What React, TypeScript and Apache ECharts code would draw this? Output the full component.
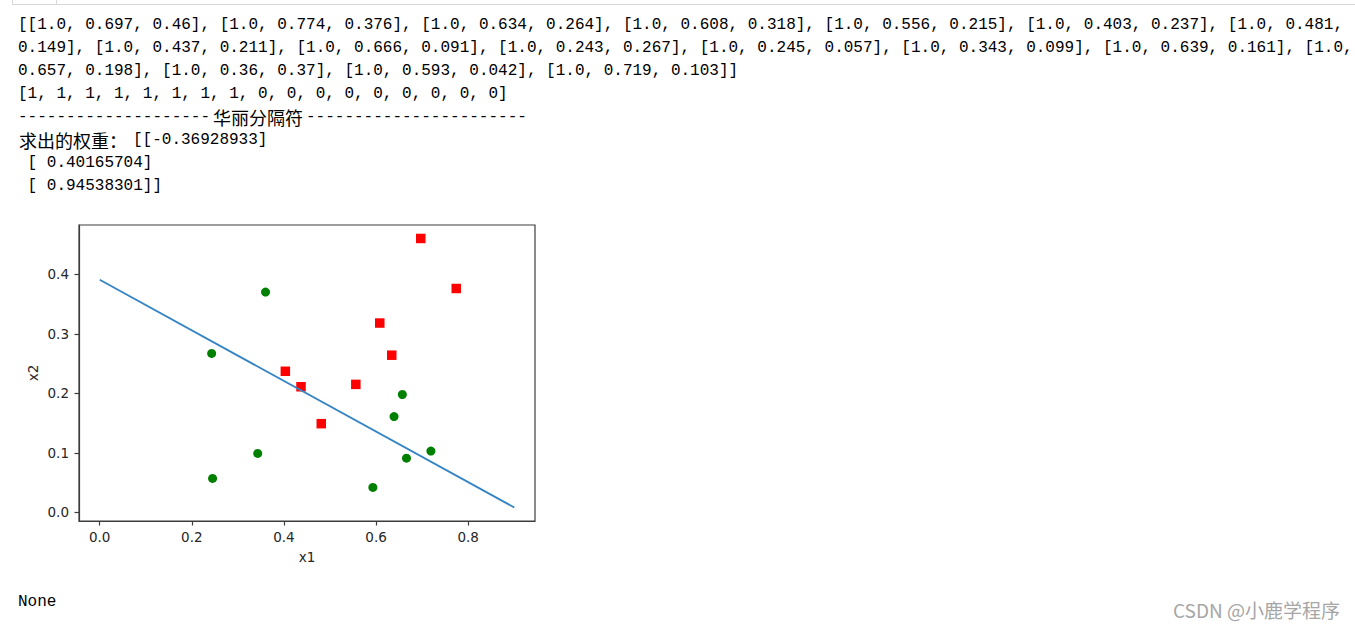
import React, { useEffect, useRef } from "react";
import * as echarts from "echarts";

// Data read from the printed matrix: positive (label 1) and negative (label 0) samples
const x1Pos = [0.697, 0.774, 0.634, 0.608, 0.556, 0.403, 0.481, 0.437];
const x2Pos = [0.46, 0.376, 0.264, 0.318, 0.215, 0.237, 0.149, 0.211];
const x1Neg = [0.666, 0.243, 0.245, 0.343, 0.639, 0.657, 0.36, 0.593, 0.719];
const x2Neg = [0.091, 0.267, 0.057, 0.099, 0.161, 0.198, 0.37, 0.042, 0.103];
// Decision boundary end points
const lineX = [0, 0.9];
const lineY = [0.3906, 0.0083];
// Tick labels
const xTicks = [0, 0.2, 0.4, 0.6, 0.8];
const yTicks = [0, 0.1, 0.2, 0.3, 0.4];

// Printed notebook output
const outLines = [
  "[[1.0, 0.697, 0.46], [1.0, 0.774, 0.376], [1.0, 0.634, 0.264], [1.0, 0.608, 0.318], [1.0, 0.556, 0.215], [1.0, 0.403, 0.237], [1.0, 0.481,",
  "0.149], [1.0, 0.437, 0.211], [1.0, 0.666, 0.091], [1.0, 0.243, 0.267], [1.0, 0.245, 0.057], [1.0, 0.343, 0.099], [1.0, 0.639, 0.161], [1.0,",
  "0.657, 0.198], [1.0, 0.36, 0.37], [1.0, 0.593, 0.042], [1.0, 0.719, 0.103]]",
  "[1, 1, 1, 1, 1, 1, 1, 1, 0, 0, 0, 0, 0, 0, 0, 0, 0]",
];
const sepLeft = "--------------------";
const sepTitle = "华丽分隔符";
const sepRight = "-----------------------";
const weightTitle = "求出的权重：";
const weightLines = ["[[-0.36928933]", " [ 0.40165704]", " [ 0.94538301]]"];
const noneText = "None";
const watermark = "CSDN @小鹿学程序";

const MONO = "'Liberation Mono', 'DejaVu Sans Mono', monospace";
const CJK = "'Noto Sans CJK SC', sans-serif";
const AXC = "#3c3c3c";
const TXT = "#262626";

export default function App() {
  const ref = useRef<HTMLDivElement>(null);
  useEffect(() => {
    if (!ref.current) return;
    const chart = echarts.init(ref.current, null, { renderer: "svg" });
    const rowY = (i: number) => 25 + 23 * i;
    const textEl = (text: string, x: number, y: number, family: string, size: number, fill = "#000", align = "left") => ({
      type: "text",
      x,
      y,
      style: { text, fill, fontFamily: family, fontSize: size, align, verticalAlign: "middle" },
    });
    const graphics: any[] = [
      { type: "line", shape: { x1: 12, y1: 4.5, x2: 1355, y2: 4.5 }, style: { stroke: "#d9d9d9", lineWidth: 1 } },
      { type: "line", shape: { x1: 12.5, y1: 0, x2: 12.5, y2: 4.5 }, style: { stroke: "#d9d9d9", lineWidth: 1 } },
      { type: "line", shape: { x1: 56.5, y1: 0, x2: 56.5, y2: 4.5 }, style: { stroke: "#d9d9d9", lineWidth: 1 } },
    ];
    outLines.forEach((l, i) => graphics.push(textEl(l, 18, rowY(i), MONO, 16)));
    graphics.push(textEl(sepLeft, 18, rowY(4), MONO, 16));
    graphics.push(textEl(sepTitle, 258, rowY(4), CJK, 18, "#000", "center"));
    graphics.push(textEl(sepRight, 306, rowY(4), MONO, 16));
    graphics.push(textEl(weightTitle, 19, rowY(5), CJK, 18));
    weightLines.forEach((l, i) => graphics.push(textEl(l, i === 0 ? 133 : 18, rowY(5 + i), MONO, 16)));
    graphics.push(textEl(noneText, 18, 602, MONO, 16));
    graphics.push(textEl(watermark, 1340, 609, CJK, 19, "#a6a6a6", "right"));

    const axisCommon = {
      type: "value",
      splitLine: { show: false },
      axisLine: { show: true, onZero: false, lineStyle: { color: AXC, width: 1.2 } },
      axisTick: { show: true, length: 4.5, lineStyle: { color: AXC, width: 1.2 } },
      nameLocation: "middle",
      nameTextStyle: { color: TXT, fontFamily: "DejaVu Sans", fontSize: 13.5 },
    };
    const labelCommon = {
      formatter: (v: number) => v.toFixed(1),
      color: TXT,
      fontFamily: "DejaVu Sans",
      fontSize: 13.5,
    };

    chart.setOption({
      animation: false,
      backgroundColor: "#ffffff",
      grid: { left: 79, top: 225, width: 456, height: 296, show: true, borderColor: AXC, borderWidth: 1.2 },
      xAxis: {
        ...axisCommon,
        min: -0.045,
        max: 0.945,
        name: "x1",
        nameGap: 29,
        axisTick: { ...axisCommon.axisTick, customValues: xTicks },
        axisLabel: { ...labelCommon, customValues: xTicks, margin: 9 },
      },
      yAxis: {
        ...axisCommon,
        min: -0.0144,
        max: 0.4826,
        name: "x2",
        nameGap: 39,
        axisTick: { ...axisCommon.axisTick, customValues: yTicks },
        axisLabel: { ...labelCommon, customValues: yTicks, margin: 10 },
      },
      series: [
        {
          type: "scatter",
          symbol: "rect",
          symbolSize: 9.5,
          itemStyle: { color: "#ff0000", opacity: 1 },
          data: x1Pos.map((x, i) => [x, x2Pos[i]]),
        },
        {
          type: "scatter",
          symbol: "circle",
          symbolSize: 9,
          itemStyle: { color: "#008000", opacity: 1 },
          data: x1Neg.map((x, i) => [x, x2Neg[i]]),
        },
        {
          type: "line",
          showSymbol: false,
          lineStyle: { color: "#3584c4", width: 1.8 },
          data: lineX.map((x, i) => [x, lineY[i]]),
        },
      ],
      graphic: graphics,
    });
    return () => chart.dispose();
  }, []);
  return <div ref={ref} style={{ position: "fixed", left: 0, top: 0, width: 1355, height: 628 }} />;
}
